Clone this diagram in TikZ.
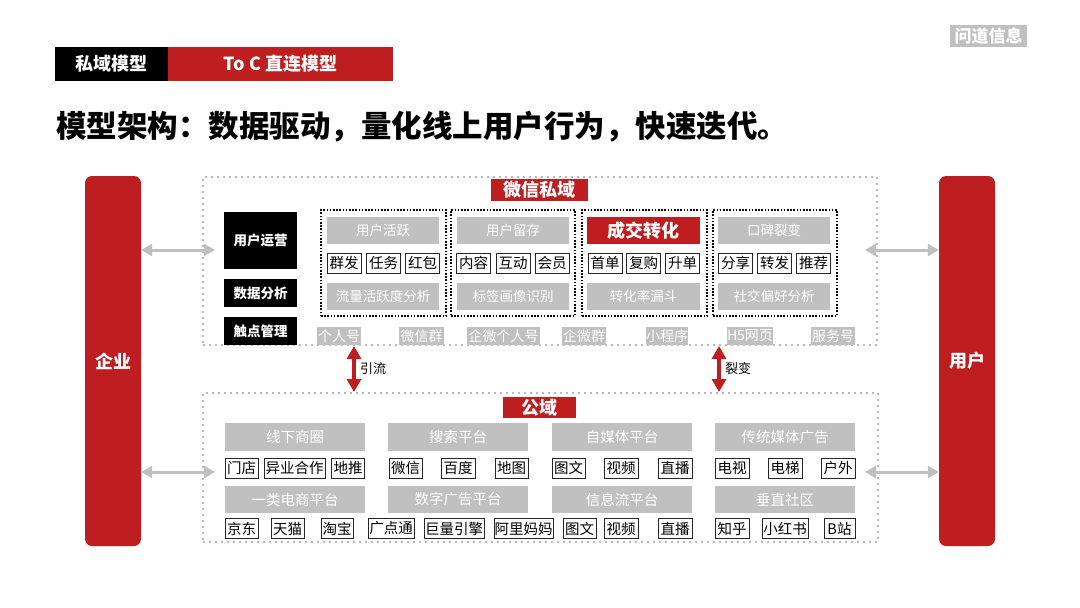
\documentclass[tikz,border=0pt]{standalone}
\usepackage{fontspec}
\setmainfont{Noto Sans CJK SC}
\usepackage{tikz}
\usetikzlibrary{arrows.meta}
\definecolor{wdred}{RGB}{190,30,32}
\definecolor{wdgray}{RGB}{192,192,192}
\definecolor{wdline}{RGB}{186,186,186}
\tikzset{>=latex}
\tikzset{
  redbar/.style={fill=wdred, rounded corners=7pt, text=white, inner sep=0pt, minimum width=56pt, minimum height=370pt, font=\bfseries\fontsize{18}{20}\selectfont},
  area/.style={draw=wdline, line width=2pt, dash pattern=on 2pt off 4pt, inner sep=0pt},
  tag/.style={fill=wdred, text=white, inner sep=0pt, font=\bfseries\fontsize{18}{20}\selectfont},
  blk/.style={fill=black, text=white, inner sep=0pt, minimum width=73pt, font=\bfseries\fontsize{13.5}{15}\selectfont},
  grp/.style={draw=black, line width=1.8pt, dash pattern=on 1.6pt off 1.6pt, inner sep=0pt, minimum height=106pt},
  hd/.style={fill=wdgray, text=white, inner sep=0pt, minimum height=27pt, font=\fontsize{13.5}{15}\selectfont},
  hdred/.style={fill=wdred, text=white, inner sep=0pt, minimum height=27pt, font=\bfseries\fontsize{18}{20}\selectfont},
  lhd/.style={fill=wdgray, text=white, inner sep=0pt, minimum width=140pt, font=\fontsize{14.5}{16}\selectfont},
  sub/.style={draw=black!85, line width=1pt, fill=white, inner sep=0pt, minimum width=34pt, minimum height=20pt, font=\fontsize{14.5}{16}\selectfont},
  tp/.style={fill=wdgray, text=white, inner sep=0pt, minimum height=18pt, font=\fontsize{14}{15}\selectfont},
  garrow/.style={<->, >={Triangle[length=11pt,width=12pt]}, line width=3pt, draw=wdgray},
  rarrow/.style={<->, >={Triangle[length=13pt,width=14pt]}, line width=4pt, draw=wdred}
}

\begin{document}
\begin{tikzpicture}[x=1pt, y=-1pt]
\useasboundingbox (0,0) rectangle (1080,608);
\fill[white] (0,0) rectangle (1080,608);

\node[fill=black, text=white, inner sep=0pt, minimum width=113pt, minimum height=34pt, font=\bfseries\fontsize{18}{20}\selectfont] (syxm) at (111.5,64) {私域模型};
\node[fill=wdred, text=white, inner sep=0pt, minimum width=225pt, minimum height=34pt, font=\bfseries\fontsize{18}{20}\selectfont] (zlxm) at (280.5,64) {To C 直连模型};
\node[fill=wdgray, text=white, inner sep=0pt, minimum width=77pt, minimum height=22pt, font=\bfseries\fontsize{17}{18}\selectfont] (wdxx) at (988.5,36) {问道信息};
\node[anchor=west, inner sep=0pt, font=\bfseries\fontsize{30.5}{32}\selectfont] (title) at (56,127) {模型架构：数据驱动，量化线上用户行为，快速迭代。};

\node[redbar] (qy) at (113,361) {企业};
\node[redbar] (yh) at (967,361) {用户};

\node[area, minimum width=674pt, minimum height=168pt] (sy) at (540,261) {};
\node[area, minimum width=675pt, minimum height=149pt] (gy) at (540.5,467.5) {};
\node[tag, minimum width=97pt, minimum height=22pt] (wxsy) at (539.5,190) {微信私域};
\node[tag, minimum width=73pt, minimum height=21pt] (gytag) at (539.5,407.5) {公域};

\node[blk, minimum height=57pt] (yhyy) at (260.5,240.5) {用户运营};
\node[blk, minimum height=28pt] (sjfx) at (260.5,293) {数据分析};
\node[blk, minimum height=28pt] (cdgl) at (260.5,331) {触点管理};

\node[grp, minimum width=125pt] (g1) at (383.5,263) {};
\node[grp, minimum width=124pt] (g2) at (513,263) {};
\node[grp, minimum width=125pt] (g3) at (644.5,263) {};
\node[grp, minimum width=124pt] (g4) at (775,263) {};

\node[hd, minimum width=112pt] (yhhy) at (383,230.5) {用户活跃};
\node[hd, minimum width=112pt] (yhlc) at (513,230.5) {用户留存};
\node[hdred, minimum width=113pt] (cjzh) at (643.5,230.5) {成交转化};
\node[hd, minimum width=112pt] (kbly) at (774,230.5) {口碑裂变};

\node[sub] (qf) at (344,263) {群发};
\node[sub] (rw) at (383.5,263) {任务};
\node[sub] (hb) at (422.5,263) {红包};
\node[sub] (nr) at (473.5,263) {内容};
\node[sub] (hd) at (513,263) {互动};
\node[sub] (hy) at (552,263) {会员};
\node[sub] (sd) at (605,263) {首单};
\node[sub] (fg) at (643.5,263) {复购};
\node[sub] (shd) at (682.5,263) {升单};
\node[sub] (fx) at (735.5,263) {分享};
\node[sub] (zf) at (774.5,263) {转发};
\node[sub] (tj) at (813.5,263) {推荐};

\node[hd, minimum width=112pt] (llfx) at (383,296.5) {流量活跃度分析};
\node[hd, minimum width=112pt] (bqsb) at (513,296.5) {标签画像识别};
\node[hd, minimum width=113pt] (zhld) at (643.5,296.5) {转化率漏斗};
\node[hd, minimum width=112pt] (sjph) at (774,296.5) {社交偏好分析};

\node[tp, minimum width=44pt] (grh) at (339,336) {个人号};
\node[tp, minimum width=45pt] (wxq) at (421.5,336) {微信群};
\node[tp, minimum width=73pt] (qwgr) at (503.5,336) {企微个人号};
\node[tp, minimum width=44pt] (qwq) at (584,336) {企微群};
\node[tp, minimum width=42pt] (xcx) at (667,336) {小程序};
\node[tp, minimum width=46pt] (h5) at (750,336) {H5网页};
\node[tp, minimum width=44pt] (fwh) at (833,336) {服务号};

\node[lhd, minimum height=28pt] (xxsq) at (295,437) {线下商圈};
\node[lhd, minimum height=28pt] (sspt) at (458,437) {搜索平台};
\node[lhd, minimum height=28pt] (zmt) at (622,437) {自媒体平台};
\node[lhd, minimum height=28pt] (ctmt) at (785,437) {传统媒体广告};

\node[sub, minimum width=33pt] (md) at (241.5,468) {门店};
\node[sub, minimum width=61pt] (yyhz) at (294.5,468) {异业合作};
\node[sub, minimum width=33pt] (dt) at (348,468) {地推};
\node[sub, minimum width=33pt] (wx) at (405.5,468) {微信};
\node[sub] (bd) at (458,468) {百度};
\node[sub, minimum width=33pt] (dtu) at (511.5,468) {地图};
\node[sub, minimum width=33pt] (tw1) at (568.5,468) {图文};
\node[sub] (sp1) at (621,468) {视频};
\node[sub] (zb1) at (675,468) {直播};
\node[sub] (ds) at (732,468) {电视};
\node[sub] (dti) at (785,468) {电梯};
\node[sub] (hw) at (838,468) {户外};

\node[lhd, minimum height=27pt] (dspt) at (295,499.5) {一类电商平台};
\node[lhd, minimum height=27pt] (ggpt) at (458,499.5) {数字广告平台};
\node[lhd, minimum height=27pt] (xxl) at (622,499.5) {信息流平台};
\node[lhd, minimum height=27pt] (czsq) at (785,499.5) {垂直社区};

\node[sub, minimum width=33pt] (jd) at (241.5,528.5) {京东};
\node[sub, minimum width=33pt] (tm) at (287.5,528.5) {天猫};
\node[sub, minimum width=32pt] (tb) at (337,528.5) {淘宝};
\node[sub, minimum width=46pt] (gdt) at (391,528.5) {广点通};
\node[sub, minimum width=60pt] (jlyq) at (454,528.5) {巨量引擎};
\node[sub, minimum width=59pt] (almm) at (523.5,528.5) {阿里妈妈};
\node[sub, minimum width=33pt] (tw2) at (579.5,528.5) {图文};
\node[sub] (sp2) at (621,528.5) {视频};
\node[sub] (zb2) at (675,528.5) {直播};
\node[sub] (zh) at (732,528.5) {知乎};
\node[sub, minimum width=46pt] (xhs) at (785,528.5) {小红书};
\node[sub, minimum width=31pt] (bz) at (839.5,528.5) {B站};

\coordinate (la1) at (215,250);
\coordinate (la2) at (215,472);
\coordinate (ra1) at (865,250);
\coordinate (ra2) at (865,472);
\draw[garrow] (qy.east |- la1) -- (la1);
\draw[garrow] (qy.east |- la2) -- (la2);
\draw[garrow] (ra1) -- (yh.west |- ra1);
\draw[garrow] (ra2) -- (yh.west |- ra2);

\coordinate (yl) at (354,369);
\coordinate (lb) at (719,369);
\draw[rarrow] (sy.south -| yl) -- (gy.north -| yl);
\draw[rarrow] (sy.south -| lb) -- (gy.north -| lb);
\node[anchor=west, inner sep=0pt, font=\fontsize{13}{14}\selectfont] (yltxt) at ([xshift=6pt]yl) {引流};
\node[anchor=west, inner sep=0pt, font=\fontsize{13}{14}\selectfont] (lbtxt) at ([xshift=6pt]lb) {裂变};
\end{tikzpicture}
\end{document}
